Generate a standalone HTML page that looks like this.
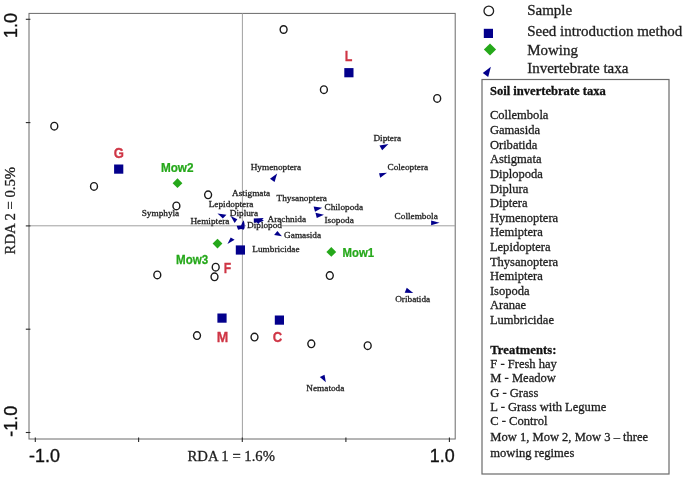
<!DOCTYPE html>
<html><head><meta charset="utf-8"><style>
html,body{margin:0;padding:0;background:#fff;}
body{width:685px;height:477px;overflow:hidden;}
svg{display:block;will-change:transform;}
</style></head><body>
<svg width="685" height="477" viewBox="0 0 685 477">
<rect width="685" height="477" fill="#fff"/>
<rect x="29" y="13.4" width="426.2" height="425.6" fill="none" stroke="#6a6a6a" stroke-width="1"/>
<line x1="29" y1="225.8" x2="455" y2="225.8" stroke="#a0a0a0" stroke-width="1"/>
<line x1="242.4" y1="13.4" x2="242.4" y2="439" stroke="#a0a0a0" stroke-width="1"/>
<line x1="25.8" y1="19.3" x2="30.4" y2="19.3" stroke="#2a2a2a" stroke-width="1.1"/>
<line x1="25.8" y1="122.6" x2="30.4" y2="122.6" stroke="#2a2a2a" stroke-width="1.1"/>
<line x1="25.8" y1="225.9" x2="30.4" y2="225.9" stroke="#2a2a2a" stroke-width="1.1"/>
<line x1="25.8" y1="329.2" x2="30.4" y2="329.2" stroke="#2a2a2a" stroke-width="1.1"/>
<line x1="25.8" y1="432.5" x2="30.4" y2="432.5" stroke="#2a2a2a" stroke-width="1.1"/>
<line x1="35.3" y1="437.6" x2="35.3" y2="441.9" stroke="#2a2a2a" stroke-width="1.1"/>
<line x1="138.6" y1="437.6" x2="138.6" y2="441.9" stroke="#2a2a2a" stroke-width="1.1"/>
<line x1="242.3" y1="437.6" x2="242.3" y2="441.9" stroke="#2a2a2a" stroke-width="1.1"/>
<line x1="345.9" y1="437.6" x2="345.9" y2="441.9" stroke="#2a2a2a" stroke-width="1.1"/>
<line x1="449.4" y1="437.6" x2="449.4" y2="441.9" stroke="#2a2a2a" stroke-width="1.1"/>
<text x="29.00" y="462.30" font-family="'Liberation Sans', sans-serif" font-weight="normal" font-size="17.9" fill="#111" stroke="#111" stroke-width="0.35">-1.0</text>
<text x="429.80" y="462.20" font-family="'Liberation Sans', sans-serif" font-weight="normal" font-size="17.9" fill="#111" stroke="#111" stroke-width="0.35">1.0</text>
<text transform="rotate(-90)" x="-38.00" y="17.20" font-family="'Liberation Sans', sans-serif" font-weight="normal" font-size="17.9" fill="#111" stroke="#111" stroke-width="0.35">1.0</text>
<text transform="rotate(-90)" x="-436.70" y="17.20" font-family="'Liberation Sans', sans-serif" font-weight="normal" font-size="17.9" fill="#111" stroke="#111" stroke-width="0.35">-1.0</text>
<text transform="rotate(-90)" x="-254.40" y="15.30" font-family="'Liberation Serif', serif" font-weight="normal" font-size="14.7" fill="#1e1e1e" stroke="#1e1e1e" stroke-width="0.3">RDA 2 = 0.5%</text>
<text x="187.50" y="460.50" font-family="'Liberation Serif', serif" font-weight="normal" font-size="14.7" fill="#1e1e1e" stroke="#1e1e1e" stroke-width="0.3">RDA 1 = 1.6%</text>
<ellipse cx="283.6" cy="29.5" rx="3.45" ry="3.8" fill="none" stroke="#1a1a1a" stroke-width="1.4"/>
<ellipse cx="323.9" cy="89.7" rx="3.45" ry="3.8" fill="none" stroke="#1a1a1a" stroke-width="1.4"/>
<ellipse cx="437.2" cy="98.4" rx="3.45" ry="3.8" fill="none" stroke="#1a1a1a" stroke-width="1.4"/>
<ellipse cx="54.3" cy="126.2" rx="3.45" ry="3.8" fill="none" stroke="#1a1a1a" stroke-width="1.4"/>
<ellipse cx="94" cy="186.4" rx="3.45" ry="3.8" fill="none" stroke="#1a1a1a" stroke-width="1.4"/>
<ellipse cx="208.1" cy="194.8" rx="3.45" ry="3.8" fill="none" stroke="#1a1a1a" stroke-width="1.4"/>
<ellipse cx="176.4" cy="205.9" rx="3.45" ry="3.8" fill="none" stroke="#1a1a1a" stroke-width="1.4"/>
<ellipse cx="157.3" cy="274.9" rx="3.45" ry="3.8" fill="none" stroke="#1a1a1a" stroke-width="1.4"/>
<ellipse cx="215.7" cy="267.2" rx="3.45" ry="3.8" fill="none" stroke="#1a1a1a" stroke-width="1.4"/>
<ellipse cx="214.5" cy="276.8" rx="3.45" ry="3.8" fill="none" stroke="#1a1a1a" stroke-width="1.4"/>
<ellipse cx="329.8" cy="275.6" rx="3.45" ry="3.8" fill="none" stroke="#1a1a1a" stroke-width="1.4"/>
<ellipse cx="197" cy="335.6" rx="3.45" ry="3.8" fill="none" stroke="#1a1a1a" stroke-width="1.4"/>
<ellipse cx="254.5" cy="337.1" rx="3.45" ry="3.8" fill="none" stroke="#1a1a1a" stroke-width="1.4"/>
<ellipse cx="311.3" cy="343.8" rx="3.45" ry="3.8" fill="none" stroke="#1a1a1a" stroke-width="1.4"/>
<ellipse cx="367.7" cy="345.7" rx="3.45" ry="3.8" fill="none" stroke="#1a1a1a" stroke-width="1.4"/>
<rect x="344.30" y="68.10" width="9.2" height="9.2" fill="#03008c"/>
<rect x="114.10" y="164.50" width="9.2" height="9.2" fill="#03008c"/>
<rect x="235.80" y="245.40" width="9.2" height="9.2" fill="#03008c"/>
<rect x="217.40" y="313.50" width="9.2" height="9.2" fill="#03008c"/>
<rect x="274.80" y="315.50" width="9.2" height="9.2" fill="#03008c"/>
<polygon points="172.6,183.2 177.5,178.29999999999998 182.4,183.2 177.5,188.1" fill="#25a81a"/>
<polygon points="212.6,243.6 217.5,238.7 222.4,243.6 217.5,248.5" fill="#25a81a"/>
<polygon points="326.40000000000003,251.9 331.3,247.0 336.2,251.9 331.3,256.8" fill="#25a81a"/>
<text transform="translate(344.70,61.00) scale(0.82,1)" font-family="'Liberation Sans', sans-serif" font-weight="bold" font-size="15.2" fill="#cf3545" stroke="#cf3545" stroke-width="0.3">L</text>
<text transform="translate(113.82,157.70) scale(0.86,1)" font-family="'Liberation Sans', sans-serif" font-weight="bold" font-size="15.2" fill="#cf3545" stroke="#cf3545" stroke-width="0.3">G</text>
<text transform="translate(223.80,272.50) scale(0.8,1)" font-family="'Liberation Sans', sans-serif" font-weight="bold" font-size="15.2" fill="#cf3545" stroke="#cf3545" stroke-width="0.3">F</text>
<text transform="translate(216.74,342.20) scale(0.91,1)" font-family="'Liberation Sans', sans-serif" font-weight="bold" font-size="15.2" fill="#cf3545" stroke="#cf3545" stroke-width="0.3">M</text>
<text transform="translate(272.78,341.60) scale(0.86,1)" font-family="'Liberation Sans', sans-serif" font-weight="bold" font-size="15.2" fill="#cf3545" stroke="#cf3545" stroke-width="0.3">C</text>
<text transform="translate(160.90,171.80) scale(0.9475806451612903,1)" font-family="'Liberation Sans', sans-serif" font-weight="bold" font-size="12.4" fill="#25a81a" stroke="#25a81a" stroke-width="0.25">Mow2</text>
<text transform="translate(176.00,264.00) scale(0.9354838709677419,1)" font-family="'Liberation Sans', sans-serif" font-weight="bold" font-size="12.4" fill="#25a81a" stroke="#25a81a" stroke-width="0.25">Mow3</text>
<text transform="translate(342.60,256.60) scale(0.9137096774193548,1)" font-family="'Liberation Sans', sans-serif" font-weight="bold" font-size="12.4" fill="#25a81a" stroke="#25a81a" stroke-width="0.25">Mow1</text>
<rect x="246.00" y="220.80" width="34.94" height="9" fill="#fff"/>
<text x="373.40" y="140.80" font-family="'Liberation Serif', serif" font-weight="normal" font-size="9.25" fill="#1e1e1e" stroke="#1e1e1e" stroke-width="0.3">Diptera</text>
<text x="387.50" y="169.70" font-family="'Liberation Serif', serif" font-weight="normal" font-size="9.25" fill="#1e1e1e" stroke="#1e1e1e" stroke-width="0.3">Coleoptera</text>
<text x="250.70" y="170.20" font-family="'Liberation Serif', serif" font-weight="normal" font-size="9.25" fill="#1e1e1e" stroke="#1e1e1e" stroke-width="0.3">Hymenoptera</text>
<text x="232.10" y="195.50" font-family="'Liberation Serif', serif" font-weight="normal" font-size="9.25" fill="#1e1e1e" stroke="#1e1e1e" stroke-width="0.3">Astigmata</text>
<text x="276.60" y="201.30" font-family="'Liberation Serif', serif" font-weight="normal" font-size="9.25" fill="#1e1e1e" stroke="#1e1e1e" stroke-width="0.3">Thysanoptera</text>
<text x="324.50" y="210.20" font-family="'Liberation Serif', serif" font-weight="normal" font-size="9.25" fill="#1e1e1e" stroke="#1e1e1e" stroke-width="0.3">Chilopoda</text>
<text x="208.70" y="207.40" font-family="'Liberation Serif', serif" font-weight="normal" font-size="9.25" fill="#1e1e1e" stroke="#1e1e1e" stroke-width="0.3">Lepidoptera</text>
<text x="229.80" y="215.60" font-family="'Liberation Serif', serif" font-weight="normal" font-size="9.25" fill="#1e1e1e" stroke="#1e1e1e" stroke-width="0.3">Diplura</text>
<text x="141.70" y="215.80" font-family="'Liberation Serif', serif" font-weight="normal" font-size="9.25" fill="#1e1e1e" stroke="#1e1e1e" stroke-width="0.3">Symphyla</text>
<text x="394.60" y="218.70" font-family="'Liberation Serif', serif" font-weight="normal" font-size="9.25" fill="#1e1e1e" stroke="#1e1e1e" stroke-width="0.3">Collembola</text>
<text x="267.50" y="222.10" font-family="'Liberation Serif', serif" font-weight="normal" font-size="9.25" fill="#1e1e1e" stroke="#1e1e1e" stroke-width="0.3">Arachnida</text>
<text x="324.50" y="222.70" font-family="'Liberation Serif', serif" font-weight="normal" font-size="9.25" fill="#1e1e1e" stroke="#1e1e1e" stroke-width="0.3">Isopoda</text>
<text x="190.40" y="224.40" font-family="'Liberation Serif', serif" font-weight="normal" font-size="9.25" fill="#1e1e1e" stroke="#1e1e1e" stroke-width="0.3">Hemiptera</text>
<text x="284.10" y="238.40" font-family="'Liberation Serif', serif" font-weight="normal" font-size="9.25" fill="#1e1e1e" stroke="#1e1e1e" stroke-width="0.3">Gamasida</text>
<text x="252.30" y="251.60" font-family="'Liberation Serif', serif" font-weight="normal" font-size="9.25" fill="#1e1e1e" stroke="#1e1e1e" stroke-width="0.3">Lumbricidae</text>
<text x="395.20" y="301.60" font-family="'Liberation Serif', serif" font-weight="normal" font-size="9.25" fill="#1e1e1e" stroke="#1e1e1e" stroke-width="0.3">Oribatida</text>
<text x="306.30" y="390.80" font-family="'Liberation Serif', serif" font-weight="normal" font-size="9.25" fill="#1e1e1e" stroke="#1e1e1e" stroke-width="0.3">Nematoda</text>
<text x="247.00" y="227.80" font-family="'Liberation Serif', serif" font-weight="normal" font-size="9.25" fill="#1e1e1e" stroke="#1e1e1e" stroke-width="0.3">Diplopod</text>
<polygon points="379.48,145.59 388.44,143.91 382.17,150.30" fill="#03008c"/>
<polygon points="379.08,173.36 387.03,172.80 380.20,177.84" fill="#03008c"/>
<polygon points="277.15,173.40 269.98,178.78 274.57,182.02" fill="#03008c"/>
<polygon points="313.65,206.47 322.16,207.70 314.99,211.73" fill="#03008c"/>
<polygon points="315.45,212.84 323.96,214.86 316.79,218.10" fill="#03008c"/>
<polygon points="431.10,220.55 439.61,222.79 431.10,225.36" fill="#03008c"/>
<polygon points="217.49,213.47 226.45,214.81 222.86,218.62" fill="#03008c"/>
<polygon points="230.62,215.93 237.34,219.18 234.65,222.99" fill="#03008c"/>
<polygon points="227.43,243.98 234.60,239.84 230.68,237.48" fill="#03008c"/>
<polygon points="274.10,234.99 277.35,231.07 281.94,236.34" fill="#03008c"/>
<polygon points="319.82,376.89 324.52,374.65 325.86,382.16" fill="#03008c"/>
<polygon points="404.72,292.66 406.74,287.74 413.24,293.00" fill="#03008c"/>
<polygon points="243.83,220.22 244.61,224.44 244.61,227.97 243.57,229.74 241.07,229.01 238.06,229.74 236.60,225.74 241.07,225.48 242.32,222.46" fill="#03008c"/>
<polygon points="253.80,218.40 263.68,217.88 262.12,219.75 263.99,220.48 259.52,222.56 258.48,224.12 256.92,222.56 253.80,222.56" fill="#03008c"/>
<circle cx="488.8" cy="10.9" r="4.8" fill="none" stroke="#202020" stroke-width="1.3"/>
<rect x="483.8" y="28.8" width="9.2" height="9.2" fill="#03008c"/>
<polygon points="483.9,49.4 490,43.4 496.1,49.4 490,55.4" fill="#25a81a"/>
<polygon points="490.9,66.8 482.8,73.1 488.2,77.1" fill="#03008c"/>
<text x="527.20" y="15.40" font-family="'Liberation Serif', serif" font-weight="normal" font-size="15" fill="#1e1e1e" stroke="#1e1e1e" stroke-width="0.3">Sample</text>
<text x="527.20" y="35.70" font-family="'Liberation Serif', serif" font-weight="normal" font-size="15" fill="#1e1e1e" stroke="#1e1e1e" stroke-width="0.3">Seed introduction method</text>
<text x="527.20" y="55.00" font-family="'Liberation Serif', serif" font-weight="normal" font-size="15" fill="#1e1e1e" stroke="#1e1e1e" stroke-width="0.3">Mowing</text>
<text x="527.20" y="73.40" font-family="'Liberation Serif', serif" font-weight="normal" font-size="15" fill="#1e1e1e" stroke="#1e1e1e" stroke-width="0.3">Invertebrate taxa</text>
<rect x="482" y="79.5" width="187" height="394.5" fill="none" stroke="#6a6a6a" stroke-width="1.2"/>
<text x="489.90" y="94.90" font-family="'Liberation Serif', serif" font-weight="bold" font-size="12.55" fill="#111" letter-spacing="0.014" stroke="#111" stroke-width="0.3">Soil invertebrate taxa</text>
<text x="489.90" y="119.40" font-family="'Liberation Serif', serif" font-weight="normal" font-size="12.55" fill="#1e1e1e" stroke="#1e1e1e" stroke-width="0.3">Collembola</text>
<text x="489.90" y="134.02" font-family="'Liberation Serif', serif" font-weight="normal" font-size="12.55" fill="#1e1e1e" stroke="#1e1e1e" stroke-width="0.3">Gamasida</text>
<text x="489.90" y="148.64" font-family="'Liberation Serif', serif" font-weight="normal" font-size="12.55" fill="#1e1e1e" stroke="#1e1e1e" stroke-width="0.3">Oribatida</text>
<text x="489.90" y="163.26" font-family="'Liberation Serif', serif" font-weight="normal" font-size="12.55" fill="#1e1e1e" stroke="#1e1e1e" stroke-width="0.3">Astigmata</text>
<text x="489.90" y="177.88" font-family="'Liberation Serif', serif" font-weight="normal" font-size="12.55" fill="#1e1e1e" stroke="#1e1e1e" stroke-width="0.3">Diplopoda</text>
<text x="489.90" y="192.50" font-family="'Liberation Serif', serif" font-weight="normal" font-size="12.55" fill="#1e1e1e" stroke="#1e1e1e" stroke-width="0.3">Diplura</text>
<text x="489.90" y="207.12" font-family="'Liberation Serif', serif" font-weight="normal" font-size="12.55" fill="#1e1e1e" stroke="#1e1e1e" stroke-width="0.3">Diptera</text>
<text x="489.90" y="221.74" font-family="'Liberation Serif', serif" font-weight="normal" font-size="12.55" fill="#1e1e1e" stroke="#1e1e1e" stroke-width="0.3">Hymenoptera</text>
<text x="489.90" y="236.36" font-family="'Liberation Serif', serif" font-weight="normal" font-size="12.55" fill="#1e1e1e" stroke="#1e1e1e" stroke-width="0.3">Hemiptera</text>
<text x="489.90" y="250.98" font-family="'Liberation Serif', serif" font-weight="normal" font-size="12.55" fill="#1e1e1e" stroke="#1e1e1e" stroke-width="0.3">Lepidoptera</text>
<text x="489.90" y="265.60" font-family="'Liberation Serif', serif" font-weight="normal" font-size="12.55" fill="#1e1e1e" stroke="#1e1e1e" stroke-width="0.3">Thysanoptera</text>
<text x="489.90" y="280.22" font-family="'Liberation Serif', serif" font-weight="normal" font-size="12.55" fill="#1e1e1e" stroke="#1e1e1e" stroke-width="0.3">Hemiptera</text>
<text x="489.90" y="294.84" font-family="'Liberation Serif', serif" font-weight="normal" font-size="12.55" fill="#1e1e1e" stroke="#1e1e1e" stroke-width="0.3">Isopoda</text>
<text x="489.90" y="309.46" font-family="'Liberation Serif', serif" font-weight="normal" font-size="12.55" fill="#1e1e1e" stroke="#1e1e1e" stroke-width="0.3">Aranae</text>
<text x="489.90" y="324.08" font-family="'Liberation Serif', serif" font-weight="normal" font-size="12.55" fill="#1e1e1e" stroke="#1e1e1e" stroke-width="0.3">Lumbricidae</text>
<text x="490.30" y="353.50" font-family="'Liberation Serif', serif" font-weight="bold" font-size="12.55" fill="#111" letter-spacing="0.116" stroke="#111" stroke-width="0.3">Treatments:</text>
<text x="490.30" y="367.60" font-family="'Liberation Serif', serif" font-weight="normal" font-size="12.55" fill="#1e1e1e" stroke="#1e1e1e" stroke-width="0.3">F - Fresh hay</text>
<text x="490.30" y="382.00" font-family="'Liberation Serif', serif" font-weight="normal" font-size="12.55" fill="#1e1e1e" stroke="#1e1e1e" stroke-width="0.3">M - Meadow</text>
<text x="490.30" y="396.50" font-family="'Liberation Serif', serif" font-weight="normal" font-size="12.55" fill="#1e1e1e" stroke="#1e1e1e" stroke-width="0.3">G - Grass</text>
<text x="490.30" y="411.00" font-family="'Liberation Serif', serif" font-weight="normal" font-size="12.55" fill="#1e1e1e" stroke="#1e1e1e" stroke-width="0.3">L - Grass with Legume</text>
<text x="490.30" y="425.40" font-family="'Liberation Serif', serif" font-weight="normal" font-size="12.55" fill="#1e1e1e" stroke="#1e1e1e" stroke-width="0.3">C - Control</text>
<text x="490.30" y="441.20" font-family="'Liberation Serif', serif" font-weight="normal" font-size="12.55" fill="#1e1e1e" stroke="#1e1e1e" stroke-width="0.3">Mow 1, Mow 2, Mow 3 – three</text>
<text x="490.30" y="456.70" font-family="'Liberation Serif', serif" font-weight="normal" font-size="12.55" fill="#1e1e1e" stroke="#1e1e1e" stroke-width="0.3">mowing regimes</text>
</svg>
</body></html>
